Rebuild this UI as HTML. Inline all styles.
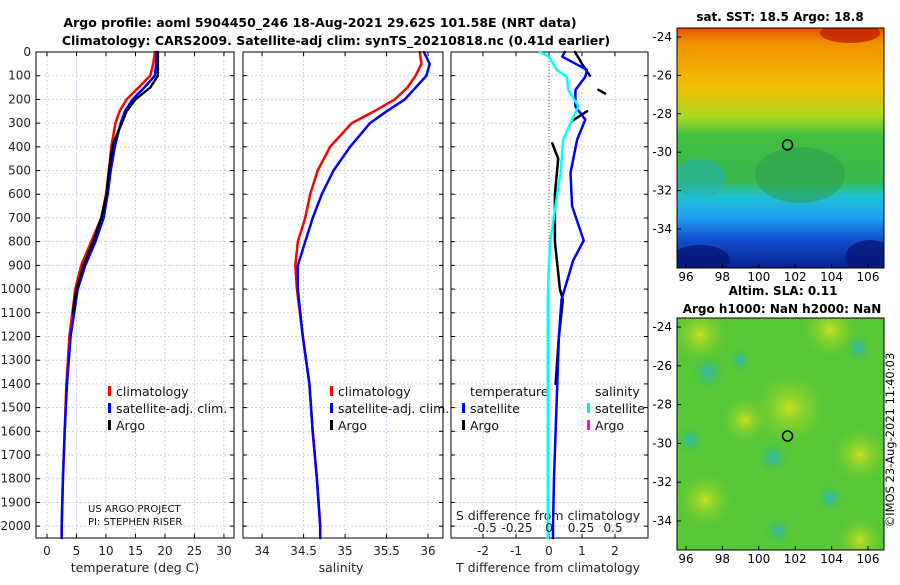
<!DOCTYPE html>
<html><head><meta charset="utf-8"><style>
body{margin:0;background:#fff;}
svg text{font-family:"DejaVu Sans","Liberation Sans",sans-serif;}
</style></head><body>
<svg id="c" width="900" height="580" viewBox="0 0 900 580" xmlns="http://www.w3.org/2000/svg">
<defs>
<linearGradient id="sstg" x1="0" y1="0" x2="0" y2="1">
<stop offset="0" stop-color="#e85000"/><stop offset="0.06" stop-color="#f09000"/><stop offset="0.25" stop-color="#f0c000"/>
<stop offset="0.37" stop-color="#a8d820"/><stop offset="0.45" stop-color="#40c040"/><stop offset="0.64" stop-color="#38b850"/>
<stop offset="0.7" stop-color="#20c0d0"/><stop offset="0.79" stop-color="#20a0f0"/><stop offset="0.88" stop-color="#1050d0"/><stop offset="1" stop-color="#0a2090"/>
</linearGradient>
<radialGradient id="cy"><stop offset="0" stop-color="#30b8c0"/><stop offset="1" stop-color="#40c040" stop-opacity="0"/></radialGradient>
<radialGradient id="ye"><stop offset="0" stop-color="#c8e020"/><stop offset="1" stop-color="#60c830" stop-opacity="0"/></radialGradient>
<clipPath id="m1"><rect x="677" y="28" width="207" height="240"/></clipPath>
<clipPath id="m2"><rect x="677" y="318" width="207" height="232"/></clipPath>
</defs>
<text x="320" y="27" text-anchor="middle" font-size="12.5" font-weight="bold">Argo profile: aoml 5904450_246 18-Aug-2021 29.62S 101.58E (NRT data)</text>
<text x="336" y="45" text-anchor="middle" font-size="12.5" font-weight="bold">Climatology: CARS2009. Satellite-adj clim: synTS_20210818.nc (0.41d earlier)</text>
<g id="plots"></g>
<g id="maps"></g>
</svg>
<script>
const depths=[0,50,100,150,200,250,300,400,500,600,700,800,900,1000,1200,1400,1600,1800,2000,2050];
const tClim=[18.3,18.0,17.5,15.5,13.5,12.3,11.6,10.9,10.5,10.0,9.2,7.5,5.8,4.8,3.8,3.3,3.0,2.7,2.5,2.5];
const tSat=[18.6,18.5,18.3,16.5,14.5,13.2,12.5,11.5,10.8,10.3,9.6,8.2,6.5,5.2,4.0,3.4,3.0,2.7,2.5,2.5];
const argoDepths=[0,50,100,150,200,250,300,380,400,500,600,700,800,900,1000,1100];
const tArgo=[18.8,18.8,18.8,17.5,15.0,13.5,12.7,11.3,11.1,10.5,10.1,9.2,7.8,6.2,5.0,4.4];
const sClim=[35.9,35.92,35.85,35.75,35.6,35.35,35.08,34.82,34.67,34.58,34.52,34.43,34.40,34.42,34.49,34.57,34.61,34.66,34.70,34.70];
const sSat=[35.95,36.02,35.98,35.85,35.72,35.5,35.3,35.06,34.86,34.72,34.61,34.52,34.43,34.43,34.49,34.57,34.61,34.66,34.70,34.70];
const dDepths=[0,20,75,105,160,230,285,370,510,650,795,880,1045,1200,1400,1600,1800,2000,2050];
const tDiffSat=[0.48,0.4,1.15,1.1,0.8,0.8,1.1,0.85,0.65,0.7,1.05,0.73,0.38,0.3,0.25,0.2,0.15,0.12,0.12];
const sDiffSat=[-0.07,0,0.06,0.14,0.15,0.23,0.18,0.11,0.09,0.05,0.01,0.0,-0.01,-0.01,-0.01,-0.01,-0.01,-0.01,-0.01];
const argoDiffDepths=[0,50,100,130,160,175,200,250,290,310,385,450,600,800,1000,1045,1200,1400];
const tDiffArgo=[0.79,1.0,1.24,null,1.5,1.7,null,1.15,0.7,null,0.1,0.28,0.18,0.18,0.33,0.42,0.3,0.2];
const depthTicks=[0,100,200,300,400,500,600,700,800,900,1000,1100,1200,1300,1400,1500,1600,1700,1800,1900,2000];
const tTicks=[0,5,10,15,20,25,30];
const sTicks=[34,34.5,35,35.5,36];
const sTickLabels=["34","34.5","35","35.5","36"];
const dTTicks=[-2,-1,0,1,2];
const dSTicks=[-0.5,-0.25,0,0.25,0.5];
const dSTickLabels=["-0.5","-0.25","0","0.25","0.5"];
const NS="http://www.w3.org/2000/svg";
const root=document.getElementById('plots');
function el(tag,attrs,parent){const e=document.createElementNS(NS,tag);for(const k in attrs)e.setAttribute(k,attrs[k]);(parent||root).appendChild(e);return e;}
const Y0=52,Y1=538;
function yD(d){return Y0+d*(Y1-Y0)/2050;}
function panel(x0,x1,xmin,xmax,name){
  const g=el('g',{});
  
  
  const xs=v=>x0+(v-xmin)/(xmax-xmin)*(x1-x0);
  return {g,xs,x0,x1};
}
function grid(p,ticks){
  depthTicks.forEach(d=>{const l=el('line',{x1:p.x0,x2:p.x1,y1:yD(d),y2:yD(d),stroke:'#c4c4ec','stroke-width':0.8,'stroke-dasharray':'2,2'},p.g);
    
    el('line',{x1:p.x0,x2:p.x0+4,y1:yD(d),y2:yD(d),stroke:'#000'},p.g);el('line',{x1:p.x1-4,x2:p.x1,y1:yD(d),y2:yD(d),stroke:'#000'},p.g);});
  ticks.forEach(v=>{const x=p.xs(v);const l=el('line',{x1:x,x2:x,y1:Y0,y2:Y1,stroke:'#c4c4ec','stroke-width':0.8,'stroke-dasharray':'2,2'},p.g);
    
    el('line',{x1:x,x2:x,y1:Y1,y2:Y1-4,stroke:'#000'},p.g);el('line',{x1:x,x2:x,y1:Y0,y2:Y0+4,stroke:'#000'},p.g);});
}
function frame(p){const r=el('rect',{x:p.x0,y:Y0,width:p.x1-p.x0,height:Y1-Y0,fill:'none',stroke:'#000','stroke-width':1},p.g);
  }
function line(p,xsArr,ds,color,w,name,dash){
  let segs=[],cur=[];
  xsArr.forEach((v,i)=>{if(v===null){if(cur.length)segs.push(cur);cur=[];}else cur.push(p.xs(v).toFixed(1)+','+yD(ds[i]).toFixed(1));});
  if(cur.length)segs.push(cur);
  segs.forEach(s=>{const pl=el('polyline',{points:s.join(' '),fill:'none',stroke:color,'stroke-width':w,'stroke-linejoin':'round','stroke-linecap':'round'},p.g);
    if(dash)pl.setAttribute('stroke-dasharray',dash);
    });
}
function xlabels(p,ticks,labels,y){ticks.forEach((v,i)=>{const t=el('text',{x:p.xs(v),y:y,'text-anchor':'middle','font-size':12,fill:'#222'},p.g);t.textContent=labels?labels[i]:String(v);
  });}
function txt(g,x,y,s,name,size,anchor,fill){const t=el('text',{x:x,y:y,'font-size':size||12,'text-anchor':anchor||'start',fill:fill||'#111'},g);t.textContent=s;
  return t;}
function legItem(g,x,y,color,label){const r=el('rect',{x:x,y:y-10,width:3,height:10,fill:color},g);
  txt(g,x+8,y,label,'legend-entry',12.5);}

const p1=panel(36,234,-1.86,31.7,'temperature-panel');
grid(p1,tTicks);
line(p1,tClim,depths,'#ff0000',2.5,'climatology-temp-line');
line(p1,tSat,depths,'#0000ff',2.5,'satellite-temp-line');
line(p1,tArgo.slice(0,8),argoDepths.slice(0,8),'#000',2.5,'argo-temp-dotted','2,2');
line(p1,tArgo.slice(7),argoDepths.slice(7),'#000',2.5,'argo-temp-line');
frame(p1);
xlabels(p1,tTicks,null,555);
depthTicks.forEach(d=>txt(root,31,yD(d)+4,String(d),'y-tick-label',12,'end','#222'));
txt(p1.g,135,572,'temperature (deg C)','x-axis-title',12.5,'middle','#222');
legItem(p1.g,108,396,'#ff0000','climatology');
legItem(p1.g,108,413,'#0000ff','satellite-adj. clim.');
legItem(p1.g,108,430,'#000','Argo');
txt(p1.g,88,512,'US ARGO PROJECT','pi-credit',10);
txt(p1.g,88,525,'PI: STEPHEN RISER','pi-credit',10);

const p2=panel(243,443,33.77,36.18,'salinity-panel');
grid(p2,sTicks);
line(p2,sClim,depths,'#ff0000',2.5,'climatology-sal-line');
line(p2,sSat,depths,'#0000ff',2.5,'satellite-sal-line');
frame(p2);
xlabels(p2,sTicks,sTickLabels,555);
txt(p2.g,341,572,'salinity','x-axis-title',12.5,'middle','#222');
legItem(p2.g,330,396,'#ff0000','climatology');
legItem(p2.g,330,413,'#0000ff','satellite-adj. clim.');
legItem(p2.g,330,430,'#000','Argo');

const p3=panel(451,648,-2.97,3.0,'difference-panel');
const p3s=panel(451,648,-0.766,0.773,'difference-panel-s');
grid(p3,dTTicks);
const zl=el('line',{x1:p3.xs(0),x2:p3.xs(0),y1:Y0,y2:Y1,stroke:'#556b2f','stroke-width':1,'stroke-dasharray':'1,2'},p3.g);

line(p3,tDiffArgo,argoDiffDepths,'#000',2.5,'argo-temp-diff-line');
line(p3s,sDiffSat,dDepths,'#00ffff',2.5,'satellite-sal-diff-line');
line(p3,tDiffSat,dDepths,'#0000ff',2.5,'satellite-temp-diff-line');
frame(p3);
xlabels(p3,dTTicks,null,555);
xlabels(p3s,dSTicks,dSTickLabels,532);
txt(p3.g,548,520,'S difference from climatology','s-axis-title',12.5,'middle','#222');
txt(p3.g,548,572,'T difference from climatology','x-axis-title',12.5,'middle','#222');
txt(p3.g,470,396,'temperature','legend-title',12.5);
txt(p3.g,595,396,'salinity','legend-title',12.5);
legItem(p3.g,462,413,'#0000ff','satellite');
legItem(p3.g,462,430,'#000','Argo');
legItem(p3.g,587,413,'#00e8e8','satellite');
legItem(p3.g,587,430,'#ff00ff','Argo');

const mg=document.getElementById('maps');
function mtxt(x,y,s,name,size,anchor,bold){const t=document.createElementNS(NS,'text');t.setAttribute('x',x);t.setAttribute('y',y);t.setAttribute('font-size',size);t.setAttribute('text-anchor',anchor);if(bold)t.setAttribute('font-weight','bold');t.textContent=s;
 mg.appendChild(t);}
function mel(tag,a,parent){const e=document.createElementNS(NS,tag);for(const k in a)e.setAttribute(k,a[k]);(parent||mg).appendChild(e);return e;}
const lonTicks=[96,98,100,102,104,106];
const latTicks=[-24,-26,-28,-30,-32,-34];
const argoLon=101.58, argoLat=-29.62;
function map(y0,h,latY24,pxLat,name,fillFn){
  const g=mel('g',{});
  fillFn(g);
  const lx=v=>686+(v-96)*18.2, ly=v=>latY24+(-24-v)*pxLat;
  mel('rect',{x:677,y:y0,width:207,height:h,fill:'none',stroke:'#000'},g);
  lonTicks.forEach(v=>{mel('line',{x1:lx(v),x2:lx(v),y1:y0+h,y2:y0+h-4,stroke:'#000'},g);mtxt(lx(v),y0+h+13,String(v),'map-lon-label',12,'middle');});
  latTicks.forEach(v=>{mel('line',{x1:677,x2:681,y1:ly(v),y2:ly(v),stroke:'#000'},g);mtxt(672,ly(v)+4,String(v),'map-lat-label',12,'end');});
  const c=mel('circle',{cx:lx(argoLon),cy:ly(argoLat),r:5,fill:'none',stroke:'#000','stroke-width':1.5},g);
  
}
map(28,240,37,19.2,'sst-map',g=>{
  const cg=mel('g',{'clip-path':'url(#m1)'},g);
  mel('rect',{x:677,y:28,width:207,height:240,fill:'url(#sstg)'},cg);
  mel('ellipse',{cx:800,cy:175,rx:45,ry:28,fill:'#30a050',opacity:0.6},cg);
  mel('ellipse',{cx:700,cy:178,rx:25,ry:20,fill:'#20b0c0',opacity:0.5},cg);
  mel('ellipse',{cx:850,cy:33,rx:30,ry:10,fill:'#c02000',opacity:0.8},cg);
  mel('ellipse',{cx:700,cy:260,rx:30,ry:15,fill:'#081878',opacity:0.8},cg);
  mel('ellipse',{cx:870,cy:258,rx:25,ry:18,fill:'#081878',opacity:0.8},cg);
});
map(318,232,327,19.4,'sla-map',g=>{
  const cg=mel('g',{'clip-path':'url(#m2)'},g);
  mel('rect',{x:677,y:318,width:207,height:232,fill:'#58c838'},cg);
  [[790,408,40],[700,335,30],[860,455,30],[745,420,25],[830,330,30],[705,500,30],[860,540,25]].forEach(b=>mel('circle',{cx:b[0],cy:b[1],r:b[2],fill:'url(#ye)'},cg));
  [[708,372,18],[773,458,16],[830,498,14],[778,531,14],[858,348,14],[690,440,14],[740,360,12]].forEach(b=>mel('circle',{cx:b[0],cy:b[1],r:b[2],fill:'url(#cy)'},cg));
});
mtxt(780,21,'sat. SST: 18.5 Argo: 18.8','sst-map-title',12,'middle',true);
mtxt(783,295,'Altim. SLA: 0.11','sla-title',12,'middle',true);
mtxt(782,313,'Argo h1000: NaN h2000: NaN','argo-height-title',12,'middle',true);
const cp=document.createElementNS(NS,'text');cp.setAttribute('x',894);cp.setAttribute('y',440);cp.setAttribute('font-size',11.5);cp.setAttribute('text-anchor','middle');cp.setAttribute('transform','rotate(-90 894 440)');cp.textContent='©IMOS 23-Aug-2021 11:40:03';


mg.appendChild(cp);
</script>
</body></html>
